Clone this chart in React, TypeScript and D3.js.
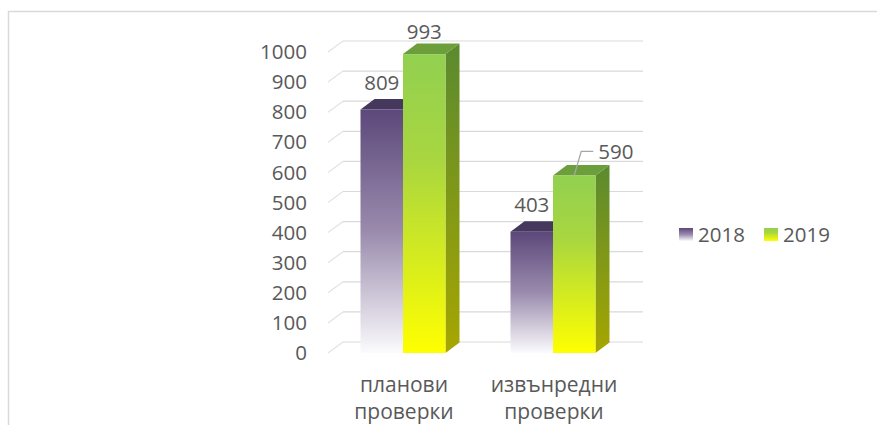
import React, { useEffect, useRef } from 'react';
import * as d3 from 'd3';

const categories = ['планови проверки', 'извънредни проверки'];
const seriesNames = ['2018', '2019'];
const values2018 = [809, 403];
const values2019 = [993, 590];
const yTicks = [0, 100, 200, 300, 400, 500, 600, 700, 800, 900, 1000];

const W = 877;
const H = 425;
const FONT = '"Open Sans", "Noto Sans", sans-serif';
const FS = '20.5px';
const TEXT = '#595959';

const App = () => {
  const svgRef = useRef<SVGSVGElement>(null);

  useEffect(() => {
    const svg = d3.select(svgRef.current);
    svg.selectAll('*').remove();

    // gradients
    const defs = svg.append('defs');
    const grad = (id, stops) => {
      const g = defs.append('linearGradient').attr('id', id)
        .attr('x1', 0).attr('y1', 0).attr('x2', 0).attr('y2', 1);
      stops.forEach(([o, c]) => g.append('stop').attr('offset', o).attr('stop-color', c));
    };
    grad('purpleFront', [[0, '#5c487a'], [0.5, '#9a8bad'], [1, '#fbfbfd']]);
    grad('greenFront', [[0, '#92d050'], [0.35, '#a8d640'], [1, '#ffff00']]);
    grad('greenSide', [[0, '#5b8a2f'], [1, '#a6a600']]);

    // frame
    svg.append('rect')
      .attr('x', 8.5).attr('y', 11.5)
      .attr('width', W + 20).attr('height', H + 20)
      .attr('fill', 'none').attr('stroke', '#d9d9d9').attr('stroke-width', 1.5);

    const depthX = 15;
    const depthY = -11;

    const y = d3.scaleLinear().domain([0, 1000]).range([353, 52]);
    const x0 = d3.scaleBand().domain(categories).range([328, 628]);
    const x1 = d3.scaleBand().domain(seriesNames).range([0, x0.bandwidth()]).paddingInner(0).paddingOuter(0.765);

    // back wall gridlines + left wall stubs
    const grid = svg.append('g');
    yTicks.forEach(t => {
      const yb = y(t) + depthY;
      grid.append('line')
        .attr('x1', 328 + depthX).attr('x2', 628 + depthX)
        .attr('y1', yb).attr('y2', yb)
        .attr('stroke', '#d9d9d9').attr('stroke-width', 1.2);
      grid.append('line')
        .attr('x1', 328 + depthX).attr('x2', 328)
        .attr('y1', yb).attr('y2', y(t))
        .attr('stroke', '#e3e3e3').attr('stroke-width', 1.2);
    });

    // y axis labels
    svg.append('g').selectAll('text')
      .data(yTicks)
      .enter()
      .append('text')
      .attr('x', 307)
      .attr('y', d => y(d))
      .attr('dy', '0.35em')
      .attr('text-anchor', 'end')
      .style('font-family', FONT)
      .style('font-size', FS)
      .attr('fill', TEXT)
      .text(d => d);

    // bars
    const bd = { x: 14, y: -10.5 };
    const bars = svg.append('g');
    categories.forEach((cat, i) => {
      const series = [
        { name: '2018', v: values2018[i], front: 'url(#purpleFront)', top: '#46385d', side: '#3c2f52' },
        { name: '2019', v: values2019[i], front: 'url(#greenFront)', top: '#6c9f3b', side: 'url(#greenSide)' },
      ];
      series.forEach(s => {
        const xl = x0(cat) + x1(s.name);
        const xr = xl + x1.bandwidth();
        const yt = y(s.v);
        const yb = y(0);
        // side
        bars.append('path')
          .attr('d', `M${xr},${yt}L${xr + bd.x},${yt + bd.y}L${xr + bd.x},${yb + bd.y}L${xr},${yb}Z`)
          .attr('fill', s.side);
        // top
        bars.append('path')
          .attr('d', `M${xl},${yt}L${xl + bd.x},${yt + bd.y}L${xr + bd.x},${yt + bd.y}L${xr},${yt}Z`)
          .attr('fill', s.top);
        // front
        bars.append('rect')
          .attr('x', xl).attr('y', yt)
          .attr('width', xr - xl).attr('height', yb - yt)
          .attr('fill', s.front);
      });
    });

    // data labels
    const labels = svg.append('g')
      .style('font-family', FONT).style('font-size', FS).attr('fill', TEXT);
    categories.forEach((cat, i) => {
      const xa = x0(cat) + x1('2018') + x1.bandwidth() / 2;
      const xb = x0(cat) + x1('2019') + x1.bandwidth() / 2;
      labels.append('text').attr('x', xa).attr('y', y(values2018[i]) - 27)
        .attr('dy', '0.35em').attr('text-anchor', 'middle').text(values2018[i]);
      if (i === 0) {
        labels.append('text').attr('x', xb).attr('y', y(values2019[i]) - 22)
          .attr('dy', '0.35em').attr('text-anchor', 'middle').text(values2019[i]);
      } else {
        const top = y(values2019[i]);
        const ly = top - 24;
        svg.append('path')
          .attr('d', `M${xb},${top}L${xb + 7},${ly}L${xb + 19},${ly}`)
          .attr('fill', 'none').attr('stroke', '#a6a6a6').attr('stroke-width', 1.3);
        labels.append('text').attr('x', xb + 24).attr('y', ly)
          .attr('dy', '0.35em').attr('text-anchor', 'start').text(values2019[i]);
      }
    });

    // category labels
    const catLabels = svg.append('g')
      .style('font-family', FONT).style('font-size', '21px').attr('fill', TEXT);
    categories.forEach(cat => {
      const words = cat.split(' ');
      const cx = x0(cat) + x0.bandwidth() / 2 + 1;
      words.forEach((w, k) => {
        catLabels.append('text')
          .attr('x', cx).attr('y', 385 + k * 27)
          .attr('dy', '0.35em').attr('text-anchor', 'middle').text(w);
      });
    });

    // legend
    const legend = svg.append('g')
      .style('font-family', FONT).style('font-size', FS).attr('fill', TEXT);
    const legendItems = [
      { name: seriesNames[0], fill: 'url(#purpleFront)', x: 679 },
      { name: seriesNames[1], fill: 'url(#greenFront)', x: 764 },
    ];
    legendItems.forEach(it => {
      legend.append('rect').attr('x', it.x).attr('y', 228)
        .attr('width', 14).attr('height', 13).attr('fill', it.fill);
      legend.append('text').attr('x', it.x + 19).attr('y', 235)
        .attr('dy', '0.35em').text(it.name);
    });
  }, []);

  return (
    <div style={{ position: 'fixed', left: 0, top: 0 }}>
      <svg ref={svgRef} width={W} height={H} style={{ display: 'block', background: '#fff' }}></svg>
    </div>
  );
};

export default App;
